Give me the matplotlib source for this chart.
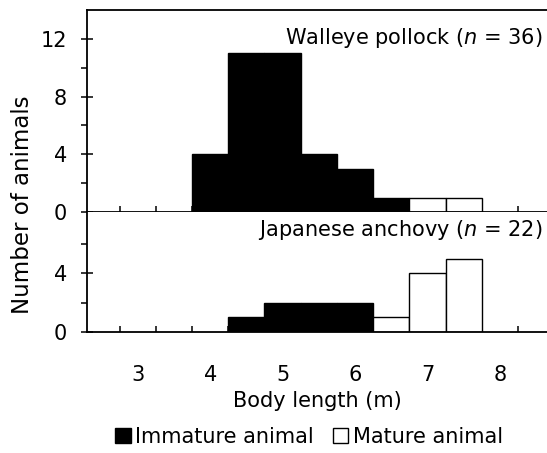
import matplotlib
matplotlib.use('Agg')
import matplotlib.pyplot as plt
from matplotlib.patches import Patch

# bin centres (m), bins are 0.5 m wide
bin_centers = [4.0, 4.5, 5.0, 5.5, 6.0, 6.5, 7.0, 7.5]
pollock_immature = [4, 11, 11, 4, 3, 1, 0, 0]
pollock_mature = [0, 0, 0, 0, 0, 0, 1, 1]
anchovy_immature = [0, 1, 2, 2, 2, 0, 0, 0]
anchovy_mature = [0, 0, 0, 0, 0, 1, 4, 5]

bin_edges = [2.75, 3.25, 3.75, 4.25, 4.75, 5.25, 5.75, 6.25, 6.75, 7.25, 7.75, 8.25]
x_labels = [3, 4, 5, 6, 7, 8]

plt.rcParams['font.family'] = 'DejaVu Sans'
plt.rcParams['font.size'] = 15
plt.rcParams['mathtext.fontset'] = 'dejavusans'

LW = 1.3
fig = plt.figure(figsize=(5.47, 4.53), dpi=100)
ax_top = fig.add_axes([0.159, 0.532, 0.841, 0.446])
ax_bot = fig.add_axes([0.159, 0.267, 0.841, 0.265])


def draw_bars(ax, immature, mature):
    xs = [x for x, v in zip(bin_centers, immature) if v > 0]
    hs = [v for v in immature if v > 0]
    ax.bar(xs, hs, width=0.5, color='black', edgecolor='black', linewidth=1.0, zorder=2)
    xs = [x for x, v in zip(bin_centers, mature) if v > 0]
    hs = [v for v in mature if v > 0]
    ax.bar(xs, hs, width=0.5, color='white', edgecolor='black', linewidth=1.0, zorder=2)


def style(ax, major, minor, ymax):
    ax.set_xlim(2.3, 8.65)
    ax.set_ylim(0, ymax)
    ax.spines['right'].set_visible(False)
    for s in ax.spines.values():
        s.set_linewidth(LW)
    ax.set_yticks(major)
    ax.set_yticks(minor, minor=True)
    ax.tick_params(axis='y', which='major', direction='inout', length=8.6, width=1.1, pad=10)
    ax.tick_params(axis='y', which='minor', direction='out', length=4.3, width=1.1)
    ax.set_xticks(bin_edges)
    ax.tick_params(axis='x', which='major', direction='in', length=4.5, width=1.1, labelbottom=False)


draw_bars(ax_top, pollock_immature, pollock_mature)
draw_bars(ax_bot, anchovy_immature, anchovy_mature)
style(ax_top, [0, 4, 8, 12], [2, 6, 10], 14)
style(ax_bot, [0, 4], [2, 6], 8.2)
ax_bot.spines['top'].set_visible(False)

ax_bot.set_xticks(x_labels, minor=True)
ax_bot.set_xticklabels([str(v) for v in x_labels], minor=True)
ax_bot.tick_params(axis='x', which='minor', length=0, pad=24)
ax_bot.set_xlabel('Body length (m)', labelpad=4)

ax_top.text(0.991, 0.861, 'Walleye pollock ($n$ = 36)', transform=ax_top.transAxes,
            ha='right', va='center')
ax_bot.text(0.991, 0.85, 'Japanese anchovy ($n$ = 22)', transform=ax_bot.transAxes,
            ha='right', va='center')

fig.text(0.042, (453 - 205) / 453, 'Number of animals', rotation=90, ha='center',
         va='center', fontsize=16.5)

handles = [Patch(facecolor='black', edgecolor='black', linewidth=1.0),
           Patch(facecolor='white', edgecolor='black', linewidth=1.0)]
fig.legend(handles, ['Immature animal', 'Mature animal'], loc='center',
           bbox_to_anchor=(0.565, (453 - 437) / 453), ncol=2, frameon=False,
           handlelength=0.75, handleheight=0.75, handletextpad=0.2, columnspacing=0.9,
           borderpad=0, borderaxespad=0)

fig.savefig('out.png', dpi=100)
